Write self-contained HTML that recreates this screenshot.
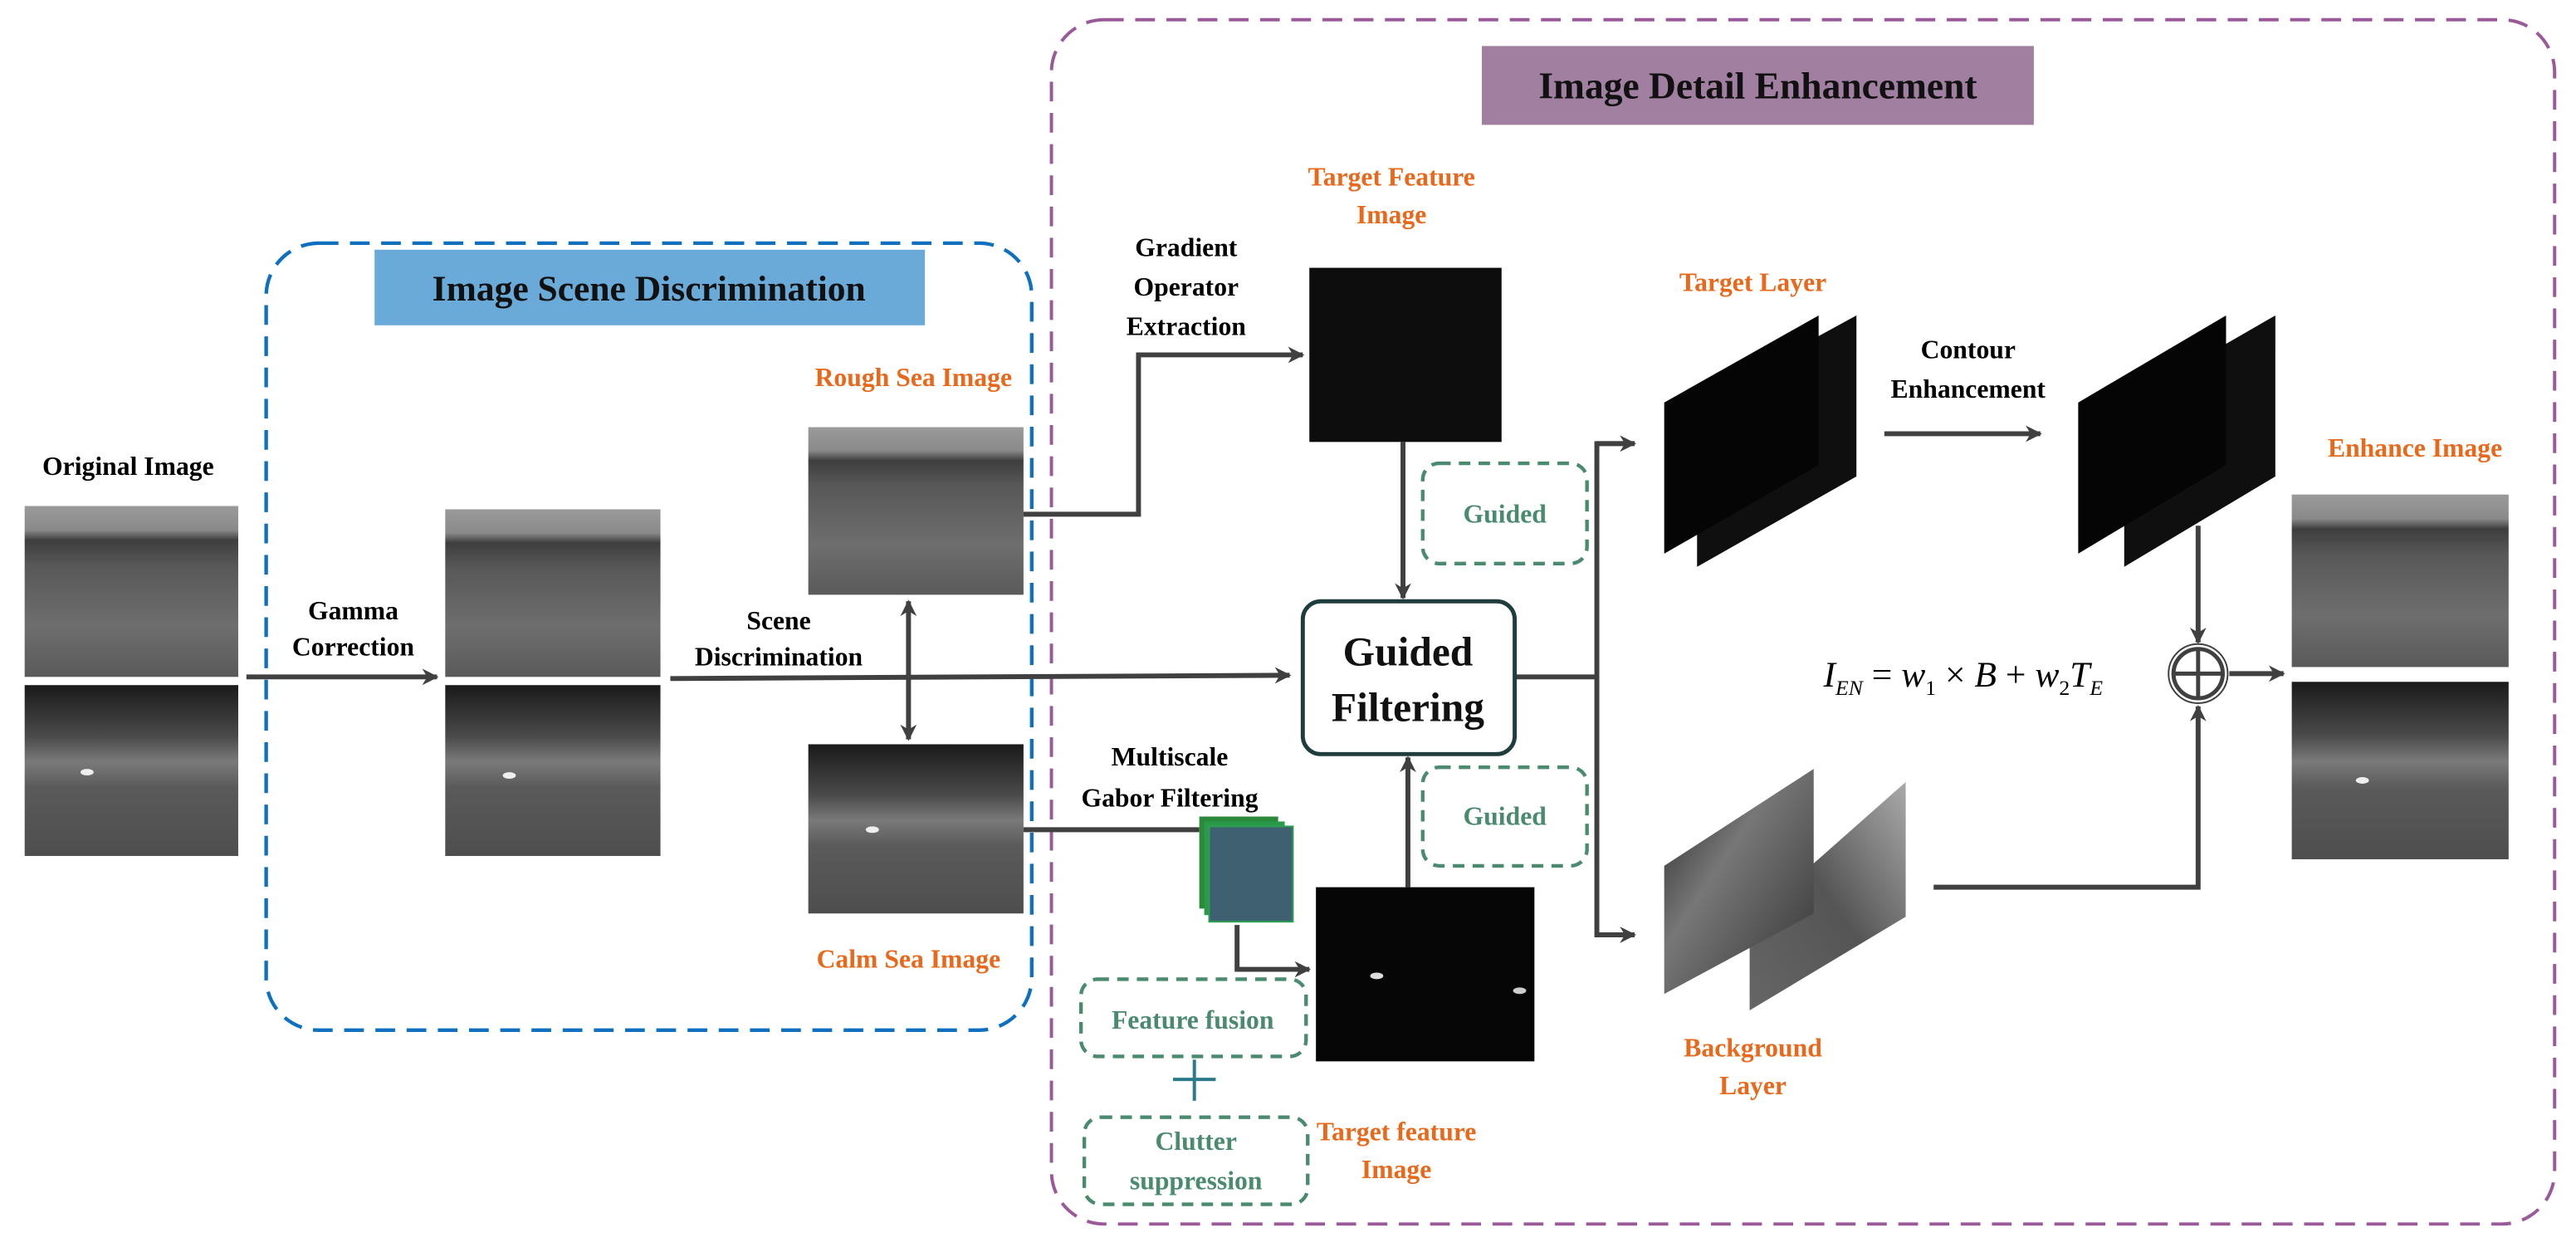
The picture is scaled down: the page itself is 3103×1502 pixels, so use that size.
<!DOCTYPE html>
<html><head><meta charset="utf-8"><style>html,body{margin:0;padding:0;background:#fff}svg{display:block}</style></head>
<body>
<svg width="3103" height="1502" viewBox="0 0 1568 759" xmlns="http://www.w3.org/2000/svg" font-family="Liberation Serif, serif" font-weight="bold">
<defs>
<linearGradient id="sea" x1="0" y1="0" x2="0" y2="1">
<stop offset="0" stop-color="#9a9a9a"/><stop offset="0.14" stop-color="#8a8a8a"/><stop offset="0.2" stop-color="#3e3e3e"/><stop offset="0.35" stop-color="#585858"/><stop offset="0.7" stop-color="#6e6e6e"/><stop offset="1" stop-color="#5a5a5a"/></linearGradient>
<linearGradient id="calm" x1="0" y1="0" x2="0" y2="1">
<stop offset="0" stop-color="#1a1a1a"/><stop offset="0.3" stop-color="#4a4a4a"/><stop offset="0.45" stop-color="#7a7a7a"/><stop offset="0.6" stop-color="#5a5a5a"/><stop offset="1" stop-color="#4e4e4e"/></linearGradient>
<linearGradient id="bg1" x1="0" y1="0" x2="1" y2="1">
<stop offset="0" stop-color="#222"/><stop offset="0.4" stop-color="#777"/><stop offset="1" stop-color="#333"/></linearGradient>
<linearGradient id="bg2" x1="1" y1="0" x2="0" y2="1">
<stop offset="0" stop-color="#aaa"/><stop offset="0.5" stop-color="#555"/><stop offset="1" stop-color="#666"/></linearGradient>
<marker id="ar" markerWidth="10" markerHeight="10" refX="9" refY="5" orient="auto" markerUnits="userSpaceOnUse"><path d="M0,0 L10,5 L0,10 L3,5 z" fill="#404040"/></marker>
<marker id="as" markerWidth="10" markerHeight="10" refX="1" refY="5" orient="auto" markerUnits="userSpaceOnUse"><path d="M10,0 L0,5 L10,10 L7,5 z" fill="#404040"/></marker>
</defs>
<rect x="640" y="12" width="915" height="733" rx="32" fill="none" stroke="#9a5a9a" stroke-width="2" stroke-dasharray="12,7"/>
<rect x="902" y="28" width="336" height="48" fill="#a17fa0"/>
<text x="1070" y="60" font-size="23" text-anchor="middle" fill="#111">Image Detail Enhancement</text>
<rect x="162" y="148" width="466" height="479" rx="32" fill="none" stroke="#1070c0" stroke-width="2.2" stroke-dasharray="12,7"/>
<rect x="228" y="152" width="335" height="46" fill="#6aaad8"/>
<text x="395" y="183" font-size="22" text-anchor="middle" fill="#111">Image Scene Discrimination</text>
<g font-size="16" fill="#000" text-anchor="middle">
<text x="78" y="289">Original Image</text>
<text x="215" y="377">Gamma</text><text x="215" y="399">Correction</text>
<text x="474" y="383">Scene</text><text x="474" y="405">Discrimination</text>
<text x="722" y="156">Gradient</text><text x="722" y="180">Operator</text><text x="722" y="204">Extraction</text>
<text x="1198" y="218">Contour</text><text x="1198" y="242">Enhancement</text>
<text x="712" y="466">Multiscale</text><text x="712" y="491">Gabor  Filtering</text>
</g>
<g font-size="16" fill="#e8681c" text-anchor="middle">
<text x="556" y="235">Rough Sea Image</text>
<text x="553" y="589">Calm Sea Image</text>
<text x="847" y="113">Target Feature</text><text x="847" y="136">Image</text>
<text x="1067" y="177">Target Layer</text>
<text x="1470" y="278">Enhance Image</text>
<text x="1067" y="643">Background</text><text x="1067" y="666">Layer</text>
<text x="850" y="694">Target feature</text><text x="850" y="717">Image</text>
</g>
<rect x="15" y="308" width="130" height="104" fill="url(#sea)"/>
<rect x="15" y="417" width="130" height="104" fill="url(#calm)"/>
<rect x="271" y="310" width="131" height="102" fill="url(#sea)"/>
<rect x="271" y="417" width="131" height="104" fill="url(#calm)"/>
<rect x="492" y="260" width="131" height="102" fill="url(#sea)"/>
<rect x="492" y="453" width="131" height="103" fill="url(#calm)"/>
<rect x="1395" y="301" width="132" height="105" fill="url(#sea)"/>
<rect x="1395" y="415" width="132" height="108" fill="url(#calm)"/>
<g fill="#eee"><ellipse cx="53" cy="470" rx="4" ry="2"/><ellipse cx="310" cy="472" rx="4" ry="2"/><ellipse cx="531" cy="505" rx="4" ry="2"/><ellipse cx="1438" cy="475" rx="4" ry="2"/></g>
<g stroke="#404040" stroke-width="3" fill="none">
<line x1="150" y1="412" x2="266" y2="412" marker-end="url(#ar)"/>
<polyline points="408,413 785,411" marker-end="url(#ar)"/>
<line x1="553" y1="366" x2="553" y2="450" marker-end="url(#ar)" marker-start="url(#as)"/>
<polyline points="623,313 693,313 693,216 793,216" marker-end="url(#ar)"/>
<line x1="854" y1="269" x2="854" y2="364" marker-end="url(#ar)"/>
<line x1="857" y1="540" x2="857" y2="461" marker-end="url(#ar)"/>
<polyline points="922,412 972,412"/>
<polyline points="995,270 972,270 972,569 995,569" marker-end="url(#ar)"/>
<line x1="972" y1="270" x2="995" y2="270" marker-end="url(#ar)"/>
<line x1="1147" y1="264" x2="1242" y2="264" marker-end="url(#ar)"/>
<line x1="1338" y1="320" x2="1338" y2="391" marker-end="url(#ar)"/>
<polyline points="1177,540 1338,540 1338,430" marker-end="url(#ar)"/>
<line x1="1357" y1="410" x2="1390" y2="410" marker-end="url(#ar)"/>
<line x1="623" y1="505" x2="730" y2="505"/>
<polyline points="753,563 753,590 797,590" marker-end="url(#ar)"/>
</g>
<rect x="797" y="163" width="117" height="106" fill="#0d0d0d"/>
<rect x="801" y="540" width="133" height="106" fill="#060606"/>
<ellipse cx="838" cy="594" rx="4" ry="2" fill="#ddd"/><ellipse cx="925" cy="603" rx="4" ry="2" fill="#ccc"/>
<rect x="793" y="366" width="129" height="93" rx="11" fill="#fff" stroke="#1f3d3d" stroke-width="2.5"/>
<text x="857" y="405" font-size="25" text-anchor="middle" fill="#111">Guided</text>
<text x="857" y="439" font-size="25" text-anchor="middle" fill="#111">Filtering</text>
<g fill="none" stroke="#4a8a6e" stroke-width="2.2" stroke-dasharray="7,5">
<rect x="866" y="282" width="100" height="61" rx="10"/>
<rect x="866" y="467" width="100" height="60" rx="10"/>
<rect x="658" y="596" width="137" height="47" rx="10"/>
<rect x="660" y="680" width="136" height="53" rx="10"/>
</g>
<g font-size="16" fill="#4a8a6e" text-anchor="middle">
<text x="916" y="318">Guided</text><text x="916" y="502">Guided</text>
<text x="726" y="626">Feature fusion</text>
<text x="728" y="700">Clutter</text><text x="728" y="724">suppression</text>
</g>
<line x1="727" y1="645" x2="727" y2="670" stroke="#2a7a8a" stroke-width="2"/><line x1="714" y1="657" x2="740" y2="657" stroke="#2a7a8a" stroke-width="2"/>
<rect x="730" y="497" width="48" height="56" fill="#2a8a3a"/>
<rect x="733" y="500" width="49" height="57" fill="#2a9a4a"/>
<rect x="736" y="503" width="51" height="58" fill="#3e6070" stroke="#2aa050" stroke-width="1"/>
<polygon points="1033,245 1130,192 1130,290 1033,345" fill="#0f0f0f"/>
<polygon points="1013,245 1107,192 1107,283 1013,337" fill="#050505"/>
<polygon points="1293,245 1385,192 1385,290 1293,345" fill="#0f0f0f"/>
<polygon points="1265,245 1355,192 1355,283 1265,337" fill="#050505"/>
<polygon points="1065,560 1160,476 1160,558 1065,615" fill="url(#bg2)"/>
<polygon points="1013,527 1104,468 1104,556 1013,605" fill="url(#bg1)"/>
<text x="1195" y="418" font-size="22" font-weight="normal" font-style="italic" text-anchor="middle" fill="#000">I<tspan font-size="13" dy="5">EN</tspan><tspan dy="-5" font-style="normal"> = </tspan>w<tspan font-size="13" dy="5" font-style="normal">1</tspan><tspan dy="-5" font-style="normal"> × </tspan>B<tspan font-style="normal"> + </tspan>w<tspan font-size="13" dy="5" font-style="normal">2</tspan><tspan dy="-5">T</tspan><tspan font-size="13" dy="5">E</tspan></text>
<circle cx="1338" cy="410" r="18" fill="#fff" stroke="#404040" stroke-width="1"/>
<circle cx="1338" cy="410" r="15" fill="none" stroke="#404040" stroke-width="2.5"/>
<line x1="1323" y1="410" x2="1353" y2="410" stroke="#404040" stroke-width="2.5"/><line x1="1338" y1="395" x2="1338" y2="425" stroke="#404040" stroke-width="2.5"/>
</svg>
</body></html>
